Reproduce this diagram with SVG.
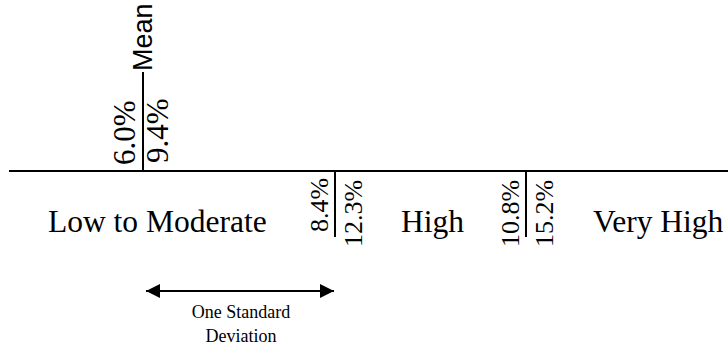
<svg xmlns="http://www.w3.org/2000/svg" width="728" height="349" viewBox="0 0 728 349">
<style>
.ln{stroke:#000;stroke-width:2;fill:none}
.big{font-family:"Liberation Serif",serif;font-size:31.5px;fill:#000}
.rot{font-family:"Liberation Serif",serif;font-size:26px;fill:#000}
.rot2{font-family:"Liberation Serif",serif;font-size:31px;fill:#000}
.sm{font-family:"Liberation Serif",serif;font-size:18px;fill:#000;text-anchor:middle}
.mean{font-family:"Liberation Sans",sans-serif;font-size:27px;fill:#000}
</style>
<defs>
<marker id="ah" viewBox="0 0 10 10" refX="10" refY="5" markerWidth="8" markerHeight="7" orient="auto-start-reverse" markerUnits="strokeWidth">
<path d="M0,0 L10,5 L0,10 z" fill="#000"/>
</marker>
</defs>
<g id="connectors">
<line class="ln" x1="9" y1="171" x2="728" y2="171"/>
<line class="ln" x1="143" y1="72" x2="143" y2="171"/>
<line class="ln" x1="335" y1="171" x2="335" y2="237"/>
<line class="ln" x1="526" y1="171" x2="526" y2="237"/>
<line class="ln" x1="146" y1="291" x2="334" y2="291" marker-start="url(#ah)" marker-end="url(#ah)"/>
</g>
<g id="mean"><text class="mean" transform="translate(152,71) rotate(-90)">Mean</text></g>
<g id="mean-values">
<text class="rot2" transform="translate(135,165) rotate(-90)">6.0%</text>
<text class="rot2" transform="translate(168,163) rotate(-90)">9.4%</text>
</g>
<g id="low-moderate"><text class="big" x="48" y="232">Low to Moderate</text></g>
<g id="boundary1">
<text class="rot" transform="translate(328,232) rotate(-90)">8.4%</text>
<text class="rot" transform="translate(362,247) rotate(-90)">12.3%</text>
</g>
<g id="high"><text class="big" x="401" y="232">High</text></g>
<g id="boundary2">
<text class="rot" transform="translate(519,247) rotate(-90)">10.8%</text>
<text class="rot" transform="translate(553,247) rotate(-90)">15.2%</text>
</g>
<g id="very-high"><text class="big" x="593" y="232">Very High</text></g>
<g id="sd-label">
<text class="sm" x="241" y="318">One Standard</text>
<text class="sm" x="241" y="342">Deviation</text>
</g>
</svg>
